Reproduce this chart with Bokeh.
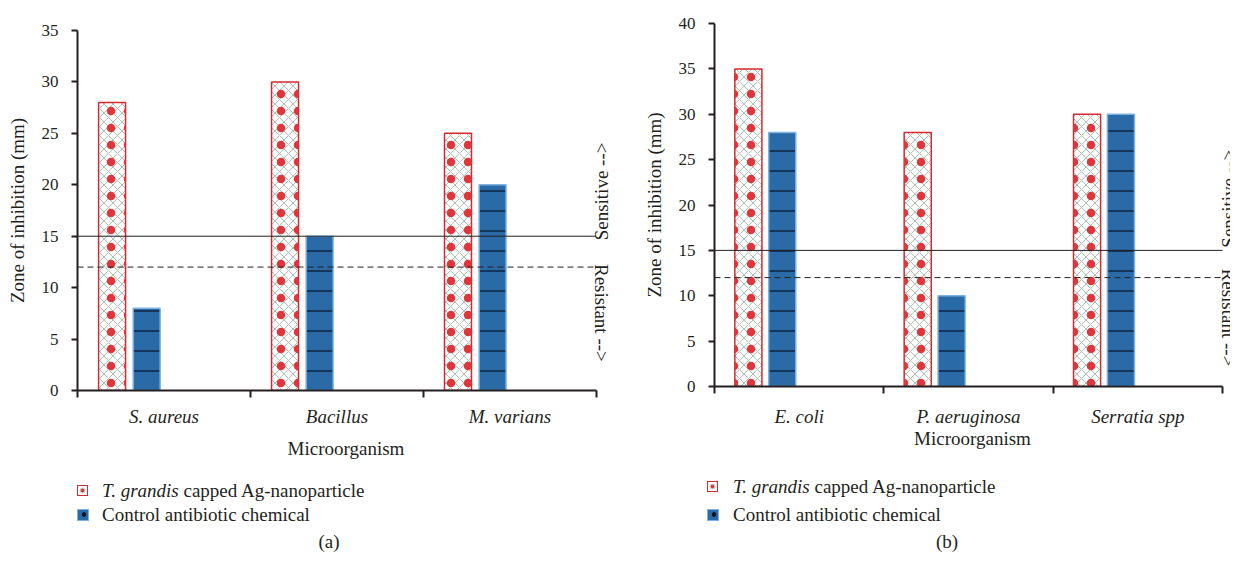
import math
from bokeh.plotting import figure
from bokeh.layouts import row, column
from bokeh.models import Range1d, FixedTicker, ColumnDataSource, CustomJSTickFormatter, Div
from bokeh.core.properties import value
from bokeh.transform import dodge
from bokeh.embed import file_html
from bokeh.resources import INLINE

# ---------------- data ----------------
cats_a = ["S. aureus", "Bacillus", "M. varians"]
nano_a = [28, 30, 25]
ctrl_a = [8, 15, 20]
yticks_a = [0, 5, 10, 15, 20, 25, 30, 35]

cats_b = ["E. coli", "P. aeruginosa", "Serratia spp"]
nano_b = [35, 28, 30]
ctrl_b = [28, 10, 30]
yticks_b = [0, 5, 10, 15, 20, 25, 30, 35, 40]

sensitive_level = 15
resistant_level = 12
sensitive_text = "Sensitive -->"
resistant_text = "Resistant -->"
series_italic = ["T. grandis", ""]
series_rest = [" capped Ag-nanoparticle", "Control antibiotic chemical"]
x_title = "Microorganism"
y_title = "Zone of inhibition (mm)"
captions = ["(a)", "(b)"]

FONT = "Liberation Serif"
INK = "#231f20"
RED = "#d42a2f"
BLUE = "#2a6aa6"
LBLUE = "#7fb2e0"
WORD = "19px"
NUM = "17px"


def main_panel(cats, nano, ctrl, yticks, width, height, bl, br, bt, bb, x_extra, bw,
               text_dx, sens_y, res_y, tick_standoff, title_standoff):
    n = len(cats)
    src = ColumnDataSource(dict(x=[i + 0.5 for i in range(n)], nano=nano, ctrl=ctrl))
    p = figure(width=width, height=height, x_range=Range1d(0, n + x_extra),
               y_range=Range1d(yticks[0], yticks[-1]), output_backend="svg",
               toolbar_location=None, min_border_left=bl, min_border_right=br,
               min_border_top=bt, min_border_bottom=bb)
    p.xgrid.visible = False
    p.ygrid.visible = False
    p.outline_line_color = None

    p.vbar(x=dodge("x", -0.30), top="nano", width=bw, source=src,
           fill_color="white", line_color=RED, line_width=1.5,
           hatch_pattern="x", hatch_color="#9bb0a2", hatch_scale=9, hatch_weight=0.8)
    p.vbar(x=dodge("x", -0.30), top="nano", width=bw, source=src,
           fill_alpha=0, line_alpha=0,
           hatch_pattern=".", hatch_color="#e0353a", hatch_scale=17, hatch_weight=2.6)
    p.vbar(x=dodge("x", -0.10), top="ctrl", width=bw, source=src,
           fill_color=BLUE, line_color=LBLUE, line_width=1.5,
           hatch_pattern="-", hatch_color="#0b2440", hatch_scale=20, hatch_weight=1.5)

    p.segment(x0=[0], y0=[sensitive_level], x1=[n], y1=[sensitive_level],
              line_color=INK, line_width=1)
    p.segment(x0=[0], y0=[resistant_level], x1=[n], y1=[resistant_level],
              line_color=INK, line_width=1, line_dash="6 4")

    p.text(x=[n + text_dx], y=[sens_y], text=[sensitive_text], angle=math.pi / 2,
           text_align="left", text_baseline="middle", text_font=value(FONT),
           text_font_size=WORD, text_color=INK)
    p.text(x=[n + text_dx], y=[res_y], text=[resistant_text], angle=-math.pi / 2,
           text_align="left", text_baseline="middle", text_font=value(FONT),
           text_font_size=WORD, text_color=INK)

    xa = p.xaxis[0]
    ya = p.yaxis[0]
    for ax in (xa, ya):
        ax.axis_line_width = 2
        ax.axis_line_color = INK
        ax.major_tick_line_width = 2
        ax.major_tick_line_color = INK
        ax.minor_tick_line_width = 2
        ax.minor_tick_line_color = INK
        ax.major_label_text_font = FONT
        ax.major_label_text_color = INK
        ax.axis_label_text_font = FONT
        ax.axis_label_text_font_size = WORD
        ax.axis_label_text_font_style = "normal"
        ax.axis_label_text_color = INK

    xa.bounds = (0, n)
    xa.ticker = FixedTicker(ticks=[i + 0.5 for i in range(n)], minor_ticks=list(range(n + 1)))
    xa.formatter = CustomJSTickFormatter(args=dict(labels=cats),
                                         code="return labels[Math.floor(tick)] || '';")
    xa.major_tick_out = 0
    xa.major_tick_in = 0
    xa.minor_tick_out = 7
    xa.minor_tick_in = 0
    xa.major_label_text_font_size = WORD
    xa.major_label_text_font_style = "italic"
    xa.major_label_standoff = tick_standoff
    xa.axis_label = x_title
    xa.axis_label_standoff = title_standoff

    ya.ticker = FixedTicker(ticks=yticks, minor_ticks=[])
    ya.major_tick_out = 6
    ya.major_tick_in = 0
    ya.minor_tick_out = 0
    ya.minor_tick_in = 0
    ya.major_label_text_font_size = NUM
    ya.major_label_standoff = 13
    ya.axis_label = y_title
    ya.axis_label_standoff = 11
    return p


def legend_div(width, height, lx, row_tops, text_dx, caption, cap_cx, cap_top):
    icons = [
        '<span style="position:absolute;left:0;top:4px;box-sizing:border-box;width:11px;'
        'height:11px;border:1.5px solid %s;background:radial-gradient(circle,#e0353a 0 1.6px,'
        '#c9d3cc 2.2px 2.8px,#ffffff 3.2px);"></span>' % RED,
        '<span style="position:absolute;left:0;top:4px;box-sizing:border-box;width:12px;'
        'height:12px;border:1px solid %s;background:radial-gradient(circle at 60%% 45%%,'
        '#15151c 0 2px,%s 2.6px);"></span>' % (LBLUE, BLUE),
    ]
    rows = []
    for k in range(2):
        label = ""
        if series_italic[k]:
            label += "<i>%s</i>" % series_italic[k]
        label += series_rest[k]
        rows.append(
            '<div style="position:absolute;left:%dpx;top:%dpx;height:20px;width:%dpx;">%s'
            '<span style="position:absolute;left:%dpx;top:0;line-height:20px;'
            'white-space:nowrap;">%s</span></div>'
            % (lx, row_tops[k], width - lx, icons[k], text_dx, label))
    cap = ('<div style="position:absolute;left:0;top:%dpx;width:%dpx;text-align:center;'
           'line-height:16px;">%s</div>' % (cap_top, 2 * cap_cx, caption))
    html = ('<div style="position:relative;width:%dpx;height:%dpx;font-family:\'%s\';'
            'font-size:%s;color:%s;">%s%s</div>'
            % (width, height, FONT, WORD, INK, "".join(rows), cap))
    return Div(text=html, width=width, height=height, margin=(0, 0, 0, 0))


p1 = main_panel(cats_a, nano_a, ctrl_a, yticks_a, 640, 470, 77, 26, 30, 80,
                0.105, 0.156, 0.029, sensitive_level - 0.4, resistant_level + 0.3, 8, 8)
p2 = main_panel(cats_b, nano_b, ctrl_b, yticks_b, 590, 470, 68, 0, 23, 84,
                0.047, 0.16, 0.035, sensitive_level + 0.3, resistant_level + 1.0, 12, -2)
l1 = legend_div(640, 75, 77, [11, 35], 25, captions[0], 329, 64)
l2 = legend_div(590, 75, 67, [7, 35], 26, captions[1], 307, 64)

layout = row(column(p1, l1), column(p2, l2))
open("out.html", "w").write(file_html(layout, INLINE))
